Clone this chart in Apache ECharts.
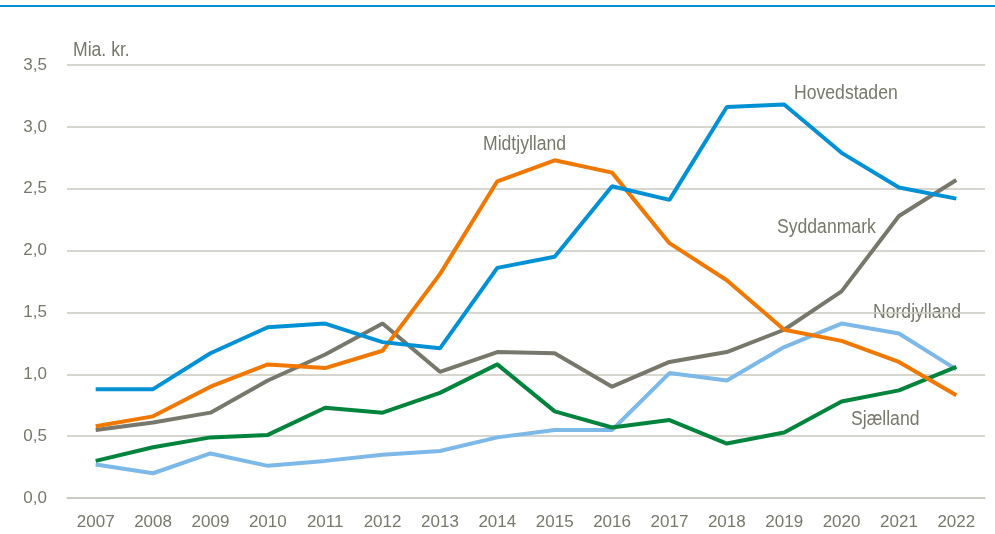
<!DOCTYPE html>
<html>
<head>
<meta charset="utf-8">
<script src="https://cdn.jsdelivr.net/npm/echarts@6/dist/echarts.min.js"></script>
<style>
  html, body { margin: 0; padding: 0; background: #fff; }
  #chart { width: 995px; height: 534px; }
</style>
</head>
<body>
<div id="chart"></div>
<script>
var years = ['2007','2008','2009','2010','2011','2012','2013','2014','2015','2016','2017','2018','2019','2020','2021','2022'];
var hovedstaden = [0.88,0.88,1.17,1.38,1.41,1.26,1.21,1.86,1.95,2.52,2.41,3.16,3.18,2.79,2.51,2.42];
var midtjylland = [0.58,0.66,0.90,1.08,1.05,1.19,1.81,2.56,2.73,2.63,2.06,1.76,1.36,1.27,1.10,0.83];
var syddanmark  = [0.55,0.61,0.69,0.95,1.16,1.41,1.02,1.18,1.17,0.90,1.10,1.18,1.36,1.67,2.28,2.57];
var sjaelland   = [0.30,0.41,0.49,0.51,0.73,0.69,0.85,1.08,0.70,0.57,0.63,0.44,0.53,0.78,0.87,1.06];
var nordjylland = [0.27,0.20,0.36,0.26,0.30,0.35,0.38,0.49,0.55,0.55,1.01,0.95,1.22,1.41,1.33,1.04];

var textColor = '#77776b';
var font = '"Liberation Sans", Arial, sans-serif';

var myChart = echarts.init(document.getElementById('chart'));

function line(name, data, color, z) {
  return {
    name: name,
    type: 'line',
    data: data,
    symbol: 'none',
    z: z,
    lineStyle: { color: color, width: 4 },
    itemStyle: { color: color }
  };
}

// series names placed next to their lines (squeezed a bit to look like a narrow face)
function label(text, x, y) {
  return {
    type: 'text', x: x, y: y, scaleX: 0.88,
    style: { text: text, fill: textColor, font: '20px ' + font, verticalAlign: 'top' }
  };
}

var option = {
  animation: false,
  grid: { left: 67, right: 10, top: 65, bottom: 36 },
  xAxis: {
    type: 'category',
    data: years,
    boundaryGap: true,
    axisLine: { lineStyle: { color: '#c8c8be', width: 1.5 } },
    axisTick: { show: false },
    axisLabel: { color: textColor, fontSize: 17, fontFamily: font, margin: 16, interval: 0 }
  },
  yAxis: {
    type: 'value',
    min: 0, max: 3.5, interval: 0.5,
    axisLine: { show: false },
    axisTick: { show: false },
    splitLine: { lineStyle: { color: '#c8c8be', width: 1.5 } },
    axisLabel: {
      color: textColor, fontSize: 17, fontFamily: font, margin: 20,
      formatter: function (v) { return v.toFixed(1).replace('.', ','); }
    }
  },
  series: [
    line('Nordjylland', nordjylland, '#7cb9e8', 2),
    line('Sjælland', sjaelland, '#00843d', 3),
    line('Syddanmark', syddanmark, '#77776b', 4),
    line('Midtjylland', midtjylland, '#f07800', 5),
    line('Hovedstaden', hovedstaden, '#0091d5', 6)
  ],
  graphic: [
    { type: 'rect', left: 0, top: 5, shape: { width: 995, height: 2 }, style: { fill: '#0091d5' } },
    label('Mia. kr.', 73, 40),
    label('Hovedstaden', 794, 83),
    label('Midtjylland', 483, 134),
    label('Syddanmark', 777, 217),
    label('Nordjylland', 873, 302),
    label('Sjælland', 851, 409)
  ]
};

myChart.setOption(option);
</script>
</body>
</html>
